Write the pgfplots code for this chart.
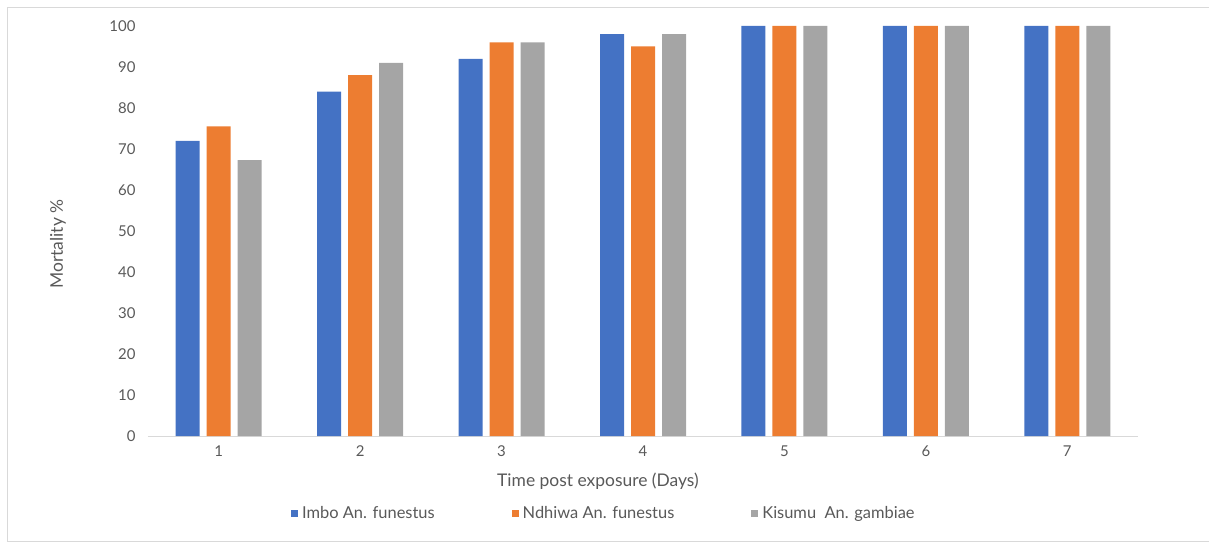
\documentclass[border=0pt]{standalone}
\usepackage{pgfplots}
\pgfplotsset{compat=1.18}
\usepackage{fontspec}
\setmainfont{Lato}
\definecolor{cblue}{HTML}{4472C4}
\definecolor{corange}{HTML}{ED7D31}
\definecolor{cgray}{HTML}{A5A5A5}
\definecolor{ctext}{HTML}{595959}
\definecolor{cline}{HTML}{D9D9D9}
\begin{document}
\begin{tikzpicture}
\path[use as bounding box] (-148bp,-107bp) rectangle (1061bp,436bp);
\draw[cline, line width=1bp] (1061bp,428bp) -- (-140bp,428bp) -- (-140bp,-105bp) -- (1061bp,-105bp);
\begin{axis}[
  at={(0,0)}, anchor=south west,
  scale only axis, width=990bp, height=410bp,
  ybar=7bp, bar width=24bp,
  xmin=0.5, xmax=7.5, ymin=0, ymax=100,
  xtick={1,2,3,4,5,6,7},
  ytick={0,10,...,100},
  major tick length=0pt,
  axis lines*=left,
  y axis line style={draw=none},
  x axis line style={draw=cline, line width=1bp},
  tick label style={font=\fontsize{15}{18}\selectfont, text=ctext},
  /pgf/number format/assume math mode=true,
  yticklabel style={xshift=-9bp},
  xticklabel style={yshift=-6bp},
  xlabel={Time post exposure (Days)},
  ylabel={Mortality \%},
  label style={font=\fontsize{17.5}{21}\selectfont, text=ctext},
  xlabel style={at={(axis description cs:0.4545,-0.1098)}, anchor=center},
  ylabel style={at={(axis description cs:-0.0909,0.468)}, anchor=center},
  legend columns=3,
  legend style={draw=none, fill=none, at={(axis description cs:0.1444,-0.1878)}, anchor=west,
    font=\fontsize{16.5}{19}\selectfont, text=ctext,
    inner sep=0pt, nodes={inner sep=0pt},
    /tikz/every odd column/.append style={column sep=4bp},
    /tikz/every even column/.append style={column sep=77bp}},
  legend image code/.code={\fill[draw=none] (0bp,-3.5bp) rectangle (7bp,3.5bp);},
]
\addplot[fill=cblue, draw=none] coordinates {(1,72) (2,84) (3,92) (4,98) (5,100) (6,100) (7,100)};
\addplot[fill=corange, draw=none] coordinates {(1,75.5) (2,88) (3,96) (4,95) (5,100) (6,100) (7,100)};
\addplot[fill=cgray, draw=none] coordinates {(1,67.3) (2,91) (3,96) (4,98) (5,100) (6,100) (7,100)};
\legend{Imbo An. funestus, Ndhiwa An. funestus, Kisumu\ \ An. gambiae}
\end{axis}
\end{tikzpicture}
\end{document}
